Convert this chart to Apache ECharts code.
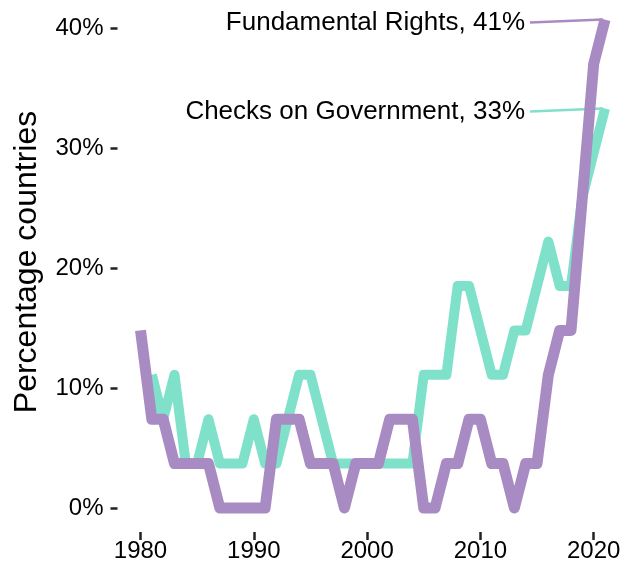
<!DOCTYPE html>
<html>
<head>
<meta charset="utf-8">
<script src="https://cdn.jsdelivr.net/npm/echarts@6/dist/echarts.min.js"></script>
<style>
  html, body { margin: 0; padding: 0; background: #fff; }
  #chart { width: 631px; height: 567px; }
</style>
</head>
<body>
<div id="chart"></div>
<script>
// share of countries (27 in total) per year, in percent
const years = [
  1980, 1981, 1982, 1983, 1984, 1985, 1986, 1987, 1988, 1989,
  1990, 1991, 1992, 1993, 1994, 1995, 1996, 1997, 1998, 1999,
  2000, 2001, 2002, 2003, 2004, 2005, 2006, 2007, 2008, 2009,
  2010, 2011, 2012, 2013, 2014, 2015, 2016, 2017, 2018, 2019,
  2020, 2021
];
const checksOnGovernment = [
  null, 11.1, 7.4, 11.1, 3.7, 3.7, 7.4, 3.7, 3.7, 3.7,
  7.4, 3.7, 3.7, 7.4, 11.1, 11.1, 7.4, 3.7, 3.7, 3.7,
  3.7, 3.7, 3.7, 3.7, 3.7, 11.1, 11.1, 11.1, 18.5, 18.5,
  14.8, 11.1, 11.1, 14.8, 14.8, 18.5, 22.2, 18.5, 18.5, 25.9,
  29.6, 33.3
];
const fundamentalRights = [
  14.8, 7.4, 7.4, 3.7, 3.7, 3.7, 3.7, 0, 0, 0,
  0, 0, 7.4, 7.4, 7.4, 3.7, 3.7, 3.7, 0, 3.7,
  3.7, 3.7, 7.4, 7.4, 7.4, 0, 0, 3.7, 3.7, 7.4,
  7.4, 3.7, 3.7, 0, 3.7, 3.7, 11.1, 14.8, 14.8, 25.9,
  37.0, 40.7
];
const endLabels = ['Checks on Government, 33%', 'Fundamental Rights, 41%'];
const xTicks = [1980, 1990, 2000, 2010, 2020];
const yTicks = [0, 10, 20, 30, 40];
const colors = ['#80e1cb', '#a98bc3'];

const font = '"Liberation Sans", Arial, sans-serif';
const chart = echarts.init(document.getElementById('chart'));

function lineSeries(name, values, color, label, width) {
  const last = values.length - 1;
  return {
    name: name,
    type: 'line',
    color: color,
    symbol: 'circle',
    symbolSize: 0,
    showAllSymbol: true,
    lineStyle: { width: width, color: color, cap: 'butt', join: 'round' },
    emphasis: { disabled: true },
    data: values.map((v, i) => {
      const item = { value: [years[i], v] };
      if (i === last) {
        item.label = {
          show: true,
          formatter: label,
          position: 'left',
          distance: 80,
          offset: [0, 3],
          color: '#000',
          fontSize: 26,
          fontFamily: font
        };
      }
      return item;
    })
  };
}

chart.setOption({
  animation: false,
  grid: { left: 140.5, right: 26, top: 4, bottom: 35 },
  xAxis: {
    type: 'value',
    min: 1980,
    max: 2021,
    axisLine: { show: false, onZero: false },
    splitLine: { show: false },
    axisTick: { show: true, customValues: xTicks, length: 8, lineStyle: { color: '#222', width: 2.5 } },
    axisLabel: {
      customValues: xTicks,
      margin: 7,
      color: '#000',
      fontSize: 24,
      fontFamily: font,
      formatter: v => String(v)
    }
  },
  yAxis: {
    type: 'value',
    min: -2,
    max: 42,
    offset: 23,
    axisLine: { show: false, onZero: false },
    splitLine: { show: false },
    axisTick: { show: true, customValues: yTicks, length: 7, lineStyle: { color: '#222', width: 2.5 } },
    axisLabel: {
      customValues: yTicks,
      margin: 14,
      color: '#000',
      fontSize: 24,
      fontFamily: font,
      formatter: v => v + '%'
    }
  },
  series: [
    lineSeries('Checks on Government', checksOnGovernment, colors[0], endLabels[0], 10),
    lineSeries('Fundamental Rights', fundamentalRights, colors[1], endLabels[1], 11)
  ]
});

// y title and leader lines from the end labels to the last points
const lastYear = years[years.length - 1];
const leaders = [checksOnGovernment, fundamentalRights].map((values, k) => {
  const end = chart.convertToPixel({ gridIndex: 0 }, [lastYear, values[values.length - 1]]);
  return {
    type: 'line',
    shape: { x1: end[0] - 75, y1: end[1] + 3, x2: end[0] - 2, y2: end[1] },
    style: { stroke: colors[k], lineWidth: 2.5 },
    z: 1
  };
});

chart.setOption({
  graphic: [{
    type: 'text',
    x: 27,
    y: 262,
    rotation: Math.PI / 2,
    style: {
      text: 'Percentage countries',
      font: '32px ' + font,
      fill: '#000',
      align: 'center',
      verticalAlign: 'middle'
    }
  }].concat(leaders)
});

window.addEventListener('resize', () => chart.resize());
</script>
</body>
</html>
